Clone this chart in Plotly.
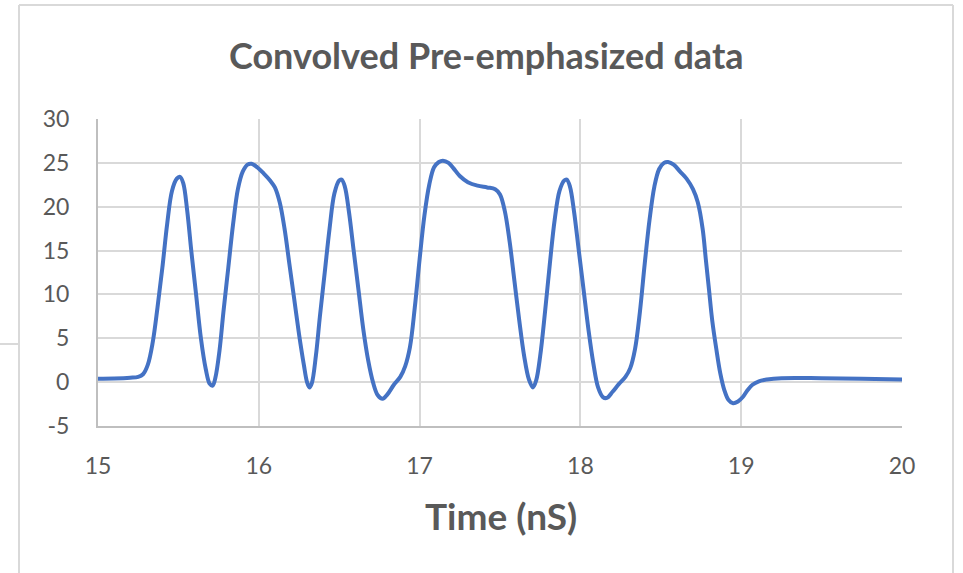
import plotly.graph_objects as go

# Data
time_ns = [15.00, 15.10, 15.20, 15.25, 15.28, 15.31, 15.34, 15.37, 15.40, 15.43,
           15.46, 15.49, 15.51, 15.53, 15.555, 15.58, 15.61, 15.64, 15.67, 15.695,
           15.713, 15.73, 15.755, 15.78, 15.81, 15.84, 15.87, 15.90, 15.93, 15.955,
           15.99, 16.03, 16.07, 16.10, 16.13, 16.16, 16.19, 16.22, 16.25, 16.28,
           16.30, 16.315, 16.33, 16.355, 16.38, 16.41, 16.44, 16.47, 16.50, 16.515,
           16.535, 16.56, 16.59, 16.62, 16.65, 16.68, 16.71, 16.74, 16.77, 16.80,
           16.84, 16.88, 16.91, 16.94, 16.97, 17.00, 17.03, 17.06, 17.09, 17.12,
           17.145, 17.18, 17.21, 17.25, 17.30, 17.36, 17.42, 17.47, 17.50, 17.53,
           17.56, 17.59, 17.62, 17.65, 17.68, 17.705, 17.725, 17.75, 17.78, 17.81,
           17.84, 17.87, 17.90, 17.915, 17.935, 17.96, 17.99, 18.02, 18.05, 18.08,
           18.11, 18.14, 18.165, 18.20, 18.24, 18.28, 18.31, 18.34, 18.37, 18.40,
           18.43, 18.46, 18.49, 18.52, 18.545, 18.58, 18.62, 18.66, 18.70, 18.73,
           18.76, 18.78, 18.80, 18.82, 18.845, 18.87, 18.895, 18.92, 18.95, 18.98,
           19.01, 19.04, 19.07, 19.11, 19.16, 19.25, 19.50, 19.75, 20.00]
amplitude = [0.40, 0.42, 0.50, 0.60, 0.9, 2.0, 4.5, 8.5, 13.0, 18.0,
             21.8, 23.2, 23.4, 22.7, 19.5, 15.0, 10.0, 5.0, 1.5, -0.2,
             -0.4, 0.5, 3.5, 8.0, 13.0, 18.0, 22.0, 24.0, 24.8, 24.9,
             24.5, 23.8, 23.0, 22.2, 20.5, 17.5, 13.5, 9.5, 5.5, 2.0,
             0.0, -0.6, -0.1, 3.0, 7.5, 12.5, 17.5, 21.5, 23.0, 23.1,
             22.3, 19.5, 15.0, 10.5, 6.0, 2.5, 0.0, -1.5, -1.9, -1.4,
             -0.3, 0.6, 1.8, 4.0, 8.5, 14.0, 19.0, 22.5, 24.5, 25.1,
             25.25, 25.0, 24.4, 23.5, 22.8, 22.4, 22.2, 22.0, 21.4, 19.5,
             16.0, 11.5, 7.0, 3.0, 0.3, -0.6, 0.2, 3.0, 8.0, 13.5,
             18.5, 21.8, 23.0, 23.1, 22.3, 19.5, 15.0, 10.5, 6.0, 2.2,
             -0.6, -1.7, -1.8, -1.1, -0.2, 0.6, 1.6, 3.8, 8.0, 13.5,
             18.5, 22.3, 24.3, 25.0, 25.1, 24.8, 24.0, 23.2, 22.0, 20.5,
             17.5, 14.0, 10.5, 7.0, 3.8, 1.0, -0.9, -2.0, -2.4, -2.2,
             -1.7, -0.9, -0.3, 0.1, 0.3, 0.45, 0.45, 0.40, 0.30]

x_ticks = [15, 16, 17, 18, 19, 20]
y_ticks = [-5, 0, 5, 10, 15, 20, 25, 30]
chart_title = "Convolved Pre-emphasized data"
x_title = "Time (nS)"

W, H = 963, 573
L, R, T, B = 98, 902, 119, 426  # plot area in pixels


def px(xp):
    return (xp - L) / (R - L)


def py(yp):
    return (B - yp) / (B - T)


fig = go.Figure()
fig.add_trace(go.Scatter(
    x=time_ns, y=amplitude, mode="lines",
    line=dict(color="#4472C4", width=4, shape="spline", smoothing=1.0),
    showlegend=False, hoverinfo="x+y",
))

TXT = "#595959"
FONT = "Lato"
frame = "#d9d9d9"

shapes = [
    dict(type="line", xref="paper", yref="paper", x0=px(19), x1=px(19), y0=py(5), y1=py(580),
         line=dict(color=frame, width=2)),
    dict(type="line", xref="paper", yref="paper", x0=px(19), x1=px(953), y0=py(5), y1=py(5),
         line=dict(color=frame, width=2)),
    dict(type="line", xref="paper", yref="paper", x0=px(953), x1=px(953), y0=py(5), y1=py(580),
         line=dict(color=frame, width=2)),
    dict(type="line", xref="paper", yref="paper", x0=px(-5), x1=px(19), y0=py(344), y1=py(344),
         line=dict(color=frame, width=2)),
]

annotations = [
    dict(text="<b>" + chart_title + "</b>", xref="paper", yref="paper",
         x=px(486), y=py(55), xanchor="center", yanchor="middle", showarrow=False,
         font=dict(family=FONT, size=36, color=TXT)),
    dict(text="<b>" + x_title + "</b>", xref="paper", yref="paper",
         x=px(501), y=py(515), xanchor="center", yanchor="middle", showarrow=False,
         font=dict(family=FONT, size=37, color=TXT)),
]

fig.update_layout(
    width=W, height=H,
    margin=dict(l=L, r=W - R, t=T, b=H - B),
    paper_bgcolor="white", plot_bgcolor="white",
    shapes=shapes, annotations=annotations,
    font=dict(family=FONT, color=TXT),
)
fig.update_xaxes(
    range=[15, 20], tickvals=x_ticks, ticktext=[str(v) for v in x_ticks],
    showgrid=True, gridcolor="#d9d9d9", gridwidth=1.5,
    showline=True, linecolor="#bfbfbf", linewidth=2,
    zeroline=False, ticks="outside", ticklen=18, tickcolor="rgba(0,0,0,0)",
    tickfont=dict(family=FONT, size=23, color=TXT),
)
fig.update_yaxes(
    range=[-5, 30], tickvals=y_ticks, ticktext=[str(v) for v in y_ticks],
    showgrid=True, gridcolor="#d9d9d9", gridwidth=1.5,
    showline=True, linecolor="#bfbfbf", linewidth=2,
    zeroline=False, ticks="outside", ticklen=22, tickcolor="rgba(0,0,0,0)",
    tickfont=dict(family=FONT, size=23, color=TXT),
)

fig.write_html("out.html", config={"displayModeBar": False},
               post_script="document.body.style.margin='0';")
